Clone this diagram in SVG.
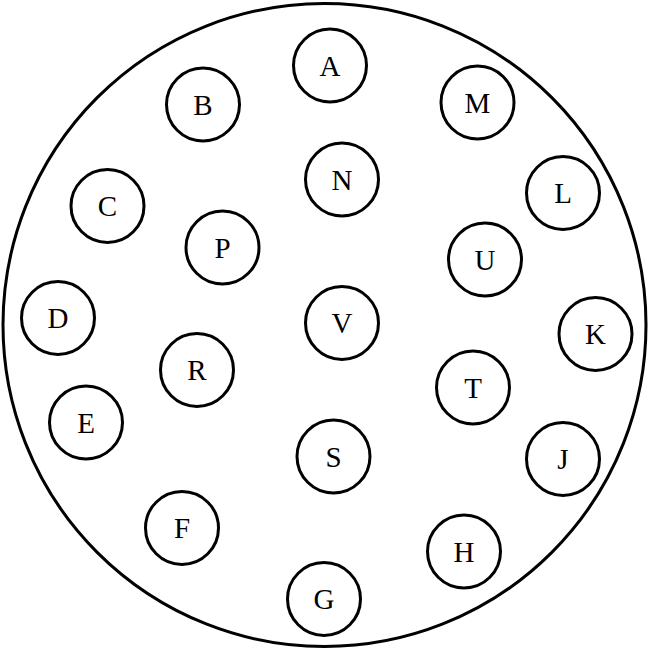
<svg xmlns="http://www.w3.org/2000/svg" width="649" height="649" viewBox="0 0 649 649">
<style>
.n circle{fill:#fff;stroke:#000;stroke-width:3}
.n text{font-family:"Liberation Serif","Times New Roman",serif;font-size:29px;text-anchor:middle;fill:#000}
</style>
<rect width="649" height="649" fill="#fff"/>
<circle id="boundary" cx="324.5" cy="325" r="321.5" fill="none" stroke="#000" stroke-width="3"/>
<g id="connectors"></g>
<g id="A" class="n"><circle cx="330" cy="65.5" r="36.5"/><text x="330" y="75.5">A</text></g>
<g id="B" class="n"><circle cx="203" cy="104.5" r="36.5"/><text x="203" y="114.5">B</text></g>
<g id="M" class="n"><circle cx="477.5" cy="102.5" r="36.5"/><text x="477.5" y="112.5">M</text></g>
<g id="N" class="n"><circle cx="342" cy="179.5" r="36.5"/><text x="342" y="189.5">N</text></g>
<g id="C" class="n"><circle cx="107.5" cy="206" r="36.5"/><text x="107.5" y="216">C</text></g>
<g id="L" class="n"><circle cx="563" cy="193" r="36.5"/><text x="563" y="203">L</text></g>
<g id="P" class="n"><circle cx="222.5" cy="247.5" r="36.5"/><text x="222.5" y="257.5">P</text></g>
<g id="U" class="n"><circle cx="485" cy="259.5" r="36.5"/><text x="485" y="269.5">U</text></g>
<g id="D" class="n"><circle cx="58" cy="318" r="36.5"/><text x="58" y="328">D</text></g>
<g id="V" class="n"><circle cx="342" cy="323" r="36.5"/><text x="342" y="333">V</text></g>
<g id="K" class="n"><circle cx="595.5" cy="334" r="36.5"/><text x="595.5" y="344">K</text></g>
<g id="R" class="n"><circle cx="197" cy="370" r="36.5"/><text x="197" y="380">R</text></g>
<g id="T" class="n"><circle cx="473" cy="387.5" r="36.5"/><text x="473" y="397.5">T</text></g>
<g id="E" class="n"><circle cx="86" cy="422.5" r="36.5"/><text x="86" y="432.5">E</text></g>
<g id="S" class="n"><circle cx="333.5" cy="456.5" r="36.5"/><text x="333.5" y="466.5">S</text></g>
<g id="J" class="n"><circle cx="563" cy="459" r="36.5"/><text x="563" y="469">J</text></g>
<g id="F" class="n"><circle cx="182" cy="528" r="36.5"/><text x="182" y="538">F</text></g>
<g id="H" class="n"><circle cx="464" cy="551.5" r="36.5"/><text x="464" y="561.5">H</text></g>
<g id="G" class="n"><circle cx="324" cy="599" r="36.5"/><text x="324" y="609">G</text></g>
</svg>
